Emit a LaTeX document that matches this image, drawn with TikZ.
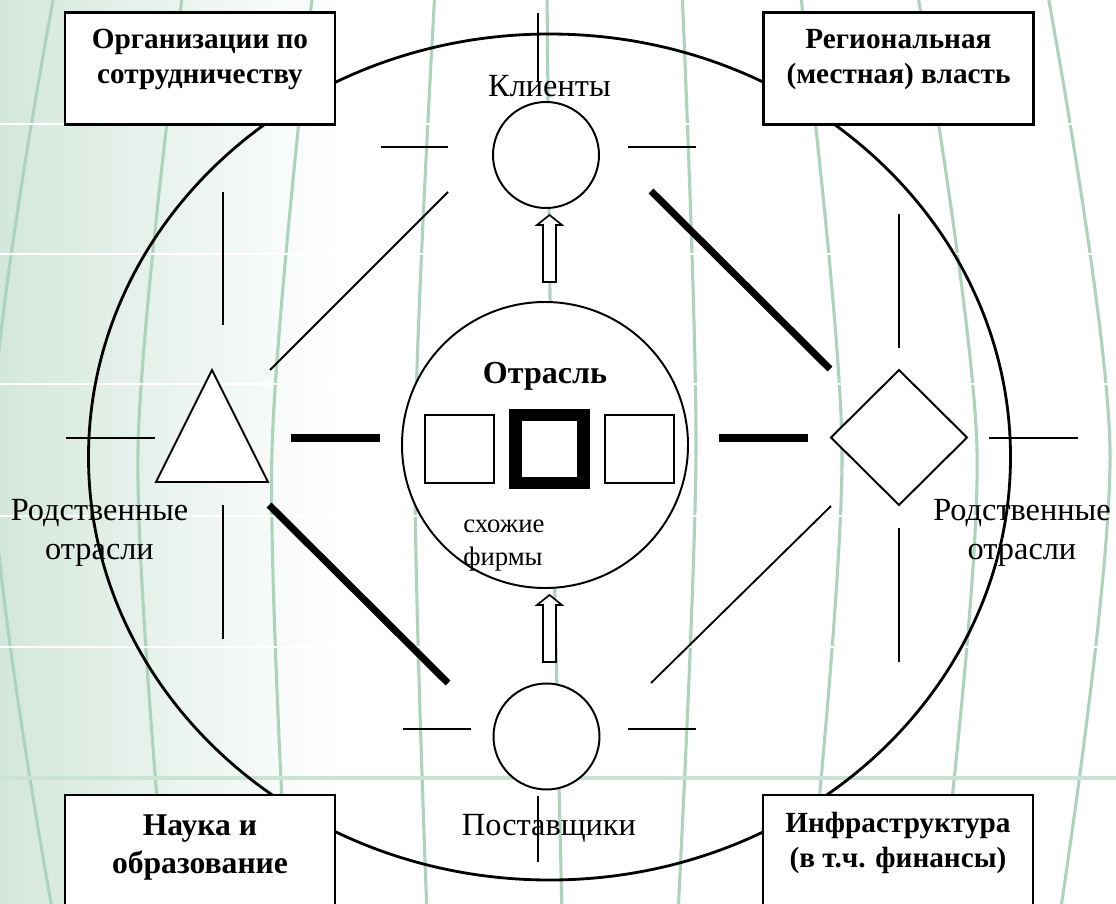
\documentclass[tikz,border=0pt]{standalone}
\usepackage{fontspec}
\setmainfont{Liberation Serif}
\definecolor{bggreen}{RGB}{212,231,220}
\definecolor{meridiangreen}{RGB}{172,212,188}
\definecolor{gridgreen}{RGB}{202,227,212}
\begin{document}
\begin{tikzpicture}[scale=0.25,
    every node/.append style={inner sep=0pt},
    slimline/.style={line width=1.3pt},
    heavyline/.style={line width=5pt},
    meridian/.style={draw=meridiangreen, line width=2.2pt},
    ring/.style={draw, circle, fill=white, line width=1.4pt},
    firm/.style={draw, fill=white, line width=1.3pt, minimum size=1.72cm},
    framebox/.style={draw, fill=white, line width=1.8pt, minimum width=6.75cm, minimum height=2.8cm},
    boxlabel/.style={align=center, font=\fontsize{20.8}{24.2}\selectfont\bfseries},
    plainlabel/.style={align=center, font=\fontsize{23}{27.5}\selectfont}]
  \useasboundingbox (0,0) rectangle (111.6,-90.4);
  \clip (0,0) rectangle (111.6,-90.4);
  \fill [white] (0,0) rectangle (111.6,-90.4);
  \shade [left color=bggreen, right color=white] (0,0) rectangle (34,-90.4);
  \foreach \a/\b/\c in {5.5/-0.8/5.3, 18.3/13.8/16.7, 31.3/27.2/28.8, 43.5/41.5/42.7,
      54.7/55.2/56.2, 68.2/69.6/67.8, 80/84.2/80.8, 91.7/97.7/93.9, 104.7/111/106}
    \draw [meridian] plot [smooth] coordinates {(\a,1) (\b,-45) (\c,-91.4)};
  \foreach \y in {12.4,25.4,38.4,51.6,64.7}
    \draw [white, line width=2pt] (0,-\y) -- (111.6,-\y);
  \draw [gridgreen, line width=2.6pt] (0,-77.8) -- (111.6,-77.8);

  \draw [line width=2pt] (54.95,-45.7) ellipse (46.1 and 42.3);

  \draw [slimline] (38.1,-14.7) -- (44.8,-14.7);
  \draw [slimline] (62.8,-14.7) -- (69.6,-14.7);
  \draw [slimline] (40.3,-72.9) -- (47.1,-72.9);
  \draw [slimline] (62.8,-72.9) -- (69.6,-72.9);
  \draw [slimline] (53.8,-1.3) -- (53.8,-8.2);
  \draw [slimline] (53.8,-79.6) -- (53.8,-86.2);
  \draw [slimline] (22.3,-19.2) -- (22.3,-32.5);
  \draw [slimline] (22.3,-50.5) -- (22.3,-63.9);
  \draw [slimline] (6.6,-43.8) -- (15.5,-43.8);
  \draw [slimline] (89.9,-21.4) -- (89.9,-34.8);
  \draw [slimline] (89.9,-52.8) -- (89.9,-66.2);
  \draw [slimline] (98.9,-43.8) -- (107.8,-43.8);
  \draw [slimline] (27,-37) -- (44.8,-19.2);
  \draw [slimline] (83.1,-50.6) -- (65.1,-68.3);

  \draw [heavyline] (29.1,-43.8) -- (38,-43.8);
  \draw [heavyline] (71.9,-43.8) -- (80.8,-43.8);
  \draw [heavyline] (65.1,-19.1) -- (83,-36.9);
  \draw [heavyline] (26.9,-50.5) -- (44.8,-68.3);

  \node [ring, minimum size=7.15cm] (ind) at (54.5,-44.5) {};
  \node [ring, minimum size=2.65cm] (cli) at (54.6,-15.5) {};
  \node [ring, minimum size=2.65cm] (sup) at (54.65,-73.65) {};

  \foreach \t/\b in {21.5/28.2, 59.5/66.2}
    \draw [line width=1.2pt, fill=white] (54.95,-\t) -- (56.2,-\t-1) -- (55.6,-\t-1)
      -- (55.6,-\b) -- (54.3,-\b) -- (54.3,-\t-1) -- (53.7,-\t-1) -- cycle;

  \draw [line width=1.4pt, fill=white] (21.2,-37) -- (26.8,-48.2) -- (15.6,-48.2) -- cycle;
  \draw [line width=1.4pt, fill=white] (89.9,-37) -- (96.7,-43.75) -- (89.9,-50.5) -- (83.1,-43.75) -- cycle;

  \node [firm] (firma) at (45.95,-44.9) {};
  \node [firm, line width=9.2pt, minimum size=1.7cm] (firmb) at (54.95,-44.9) {};
  \node [firm] (firmc) at (63.95,-44.9) {};

  \node [framebox] (coop) at (20,-6.85) {};
  \node [framebox] (gov) at (89.85,-6.85) {};
  \node [framebox] (sci) at (20,-85.1) {};
  \node [framebox] (infra) at (89.8,-85.1) {};

  \node [boxlabel, anchor=base] (cooptxt) at (20,-8.3) {Организации по\\сотрудничеству};
  \node [boxlabel, anchor=base] (govtxt) at (89.85,-8.3) {Региональная\\(местная) власть};
  \node [boxlabel, anchor=base, font=\fontsize{22.5}{27}\selectfont\bfseries] (scitxt) at (20,-87.3) {Наука и\\образование};
  \node [boxlabel, anchor=base] (infratxt) at (89.8,-86.7) {Инфраструктура\\(в т.ч. финансы)};

  \node [plainlabel, anchor=base] (clitxt) at (54.95,-9.6) {Клиенты};
  \node [plainlabel, anchor=base] (suptxt) at (54.9,-83.5) {Поставщики};
  \node [anchor=base, font=\fontsize{22.8}{26}\selectfont\bfseries] (indtxt) at (54.5,-38.3) {Отрасль};
  \node [plainlabel, anchor=base] (reltxtl) at (9.95,-55.9) {Родственные\\отрасли};
  \node [plainlabel, anchor=base] (reltxtr) at (102.2,-55.9) {Родственные\\отрасли};
  \node [align=left, anchor=base west, font=\fontsize{19}{22.8}\selectfont] (simtxt) at (46.3,-56.5) {схожие\\фирмы};
\end{tikzpicture}
\end{document}
